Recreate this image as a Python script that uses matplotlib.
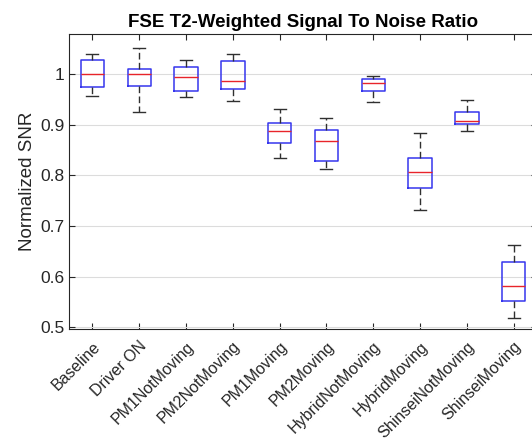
import matplotlib
matplotlib.use("Agg")
import matplotlib.pyplot as plt

plt.rcParams["font.family"] = ["Liberation Sans", "DejaVu Sans"]

labels = ["Baseline", "Driver ON", "PM1NotMoving", "PM2NotMoving", "PM1Moving",
          "PM2Moving", "HybridNotMoving", "HybridMoving", "ShinseiNotMoving",
          "ShinseiMoving"]
whislo = [0.957, 0.926, 0.954, 0.947, 0.835, 0.813, 0.945, 0.732, 0.887, 0.519]
q1 = [0.974, 0.977, 0.966, 0.971, 0.863, 0.828, 0.966, 0.775, 0.901, 0.552]
med = [1.000, 1.000, 0.995, 0.986, 0.888, 0.868, 0.982, 0.807, 0.908, 0.582]
q3 = [1.027, 1.010, 1.014, 1.025, 0.903, 0.889, 0.991, 0.834, 0.926, 0.629]
whishi = [1.039, 1.052, 1.028, 1.040, 0.931, 0.913, 0.997, 0.884, 0.949, 0.662]

stats = [dict(label=l, whislo=a, q1=b, med=c, q3=d, whishi=e, fliers=[])
         for l, a, b, c, d, e in zip(labels, whislo, q1, med, q3, whishi)]

fig = plt.figure(figsize=(5.32, 4.44), dpi=100)
ax = fig.add_axes([0.1297, 0.259, 0.8797, 0.6644])

ax.bxp(stats, widths=0.5, capwidths=0.26,
       boxprops=dict(color="#3535ee", lw=1.1),
       medianprops=dict(color="#e8242a", lw=1.0),
       whiskerprops=dict(color="#303030", lw=1.0, linestyle=(0, (4.8, 2.4))),
       capprops=dict(color="#303030", lw=1.0))

ax.set_xlim(0.5, 10.5)
ax.set_ylim(0.497, 1.079)
ax.set_yticks([0.5, 0.6, 0.7, 0.8, 0.9, 1.0])
ax.set_yticklabels(["0.5", "0.6", "0.7", "0.8", "0.9", "1"])
ax.set_xticklabels(labels, rotation=45, ha="right", rotation_mode="anchor")
ax.yaxis.grid(True, color="#dcdcdc", lw=0.8)
ax.set_axisbelow(True)

for s in ax.spines.values():
    s.set_color("#262626")
    s.set_linewidth(0.8)
ax.tick_params(axis="both", direction="in", top=True, right=True,
               colors="#262626", labelsize=12.5, length=4, width=0.8)
ax.tick_params(axis="x", labelsize=11.5, pad=7)

ax.set_ylabel("Normalized SNR", fontsize=13.5, color="#262626", labelpad=3)
ax.set_title("FSE T2-Weighted Signal To Noise Ratio", fontsize=13.5,
             fontweight="bold", pad=5)

fig.savefig("out.png", dpi=100)
